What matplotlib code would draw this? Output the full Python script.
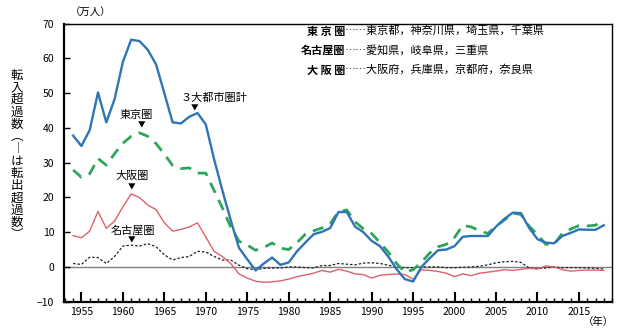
import matplotlib
matplotlib.use("Agg")
import matplotlib.pyplot as plt
from matplotlib.ticker import MultipleLocator

plt.rcParams["font.family"] = ["Noto Sans CJK JP", "DejaVu Sans"]

years = list(range(1954, 2019))

total = [37.8, 34.8, 39.4, 50.2, 41.6, 48.3, 59.0, 65.4, 65.0, 62.5, 58.3, 50.0,
         41.6, 41.3, 43.2, 44.3, 41.0, 31.0, 22.0, 13.5, 5.5, 2.2, -1.0, 1.0,
         2.7, 0.6, 1.3, 4.5, 7.0, 9.4, 10.1, 11.2, 15.8, 15.8, 11.6, 10.0,
         7.5, 6.0, 3.0, -0.6, -3.5, -4.2, 0.0, 2.5, 4.8, 5.0, 6.0, 8.7,
         8.9, 8.9, 8.9, 11.6, 13.8, 15.6, 15.5, 11.2, 8.0, 7.0, 6.8, 8.9,
         9.8, 10.8, 10.7, 10.7, 12.0]

tokyo = [27.9, 25.8, 26.8, 31.2, 29.3, 32.6, 35.6, 37.6, 38.6, 37.6, 35.5, 32.5,
         29.2, 28.3, 28.5, 27.0, 27.0, 22.0, 17.0, 11.5, 7.4, 6.3, 4.8, 5.6,
         6.9, 5.4, 5.0, 7.0, 9.4, 10.4, 11.2, 12.4, 15.9, 16.4, 13.0, 11.0,
         9.6, 7.0, 4.3, 1.0, -1.5, -0.8, 1.3, 4.0, 5.8, 6.5, 8.5, 12.0,
         11.5, 10.5, 9.6, 11.7, 13.5, 15.5, 15.1, 11.7, 9.3, 6.5, 6.5, 9.7,
         10.9, 11.9, 11.8, 12.0, 13.6]

osaka = [9.0, 8.4, 10.3, 16.0, 11.1, 13.2, 17.3, 21.0, 20.0, 17.8, 16.5, 12.7,
         10.3, 10.8, 11.5, 12.7, 8.6, 4.5, 3.0, 1.0, -2.0, -3.2, -4.1, -4.4,
         -4.3, -4.0, -3.5, -2.8, -2.3, -1.8, -1.0, -1.5, -0.7, -1.2, -2.0, -2.2,
         -3.2, -2.4, -2.2, -2.0, -2.2, -3.5, -0.8, -1.0, -1.3, -1.8, -2.8, -2.0,
         -2.5, -1.8, -1.5, -1.2, -0.8, -1.0, -0.7, -0.4, -0.6, 0.3, 0.0, -0.8,
         -1.2, -1.0, -0.9, -0.9, -1.0]

nagoya = [1.0, 0.7, 2.8, 2.7, 1.0, 3.0, 6.0, 6.3, 6.0, 6.7, 5.8, 3.5,
          2.0, 2.7, 3.0, 4.5, 4.3, 3.0, 2.0, 2.0, 0.5, -0.5, -0.8, -0.4,
          -0.3, -0.3, 0.0, 0.0, -0.2, -0.3, 0.4, 0.4, 1.0, 0.8, 0.6, 1.1,
          1.2, 1.0, 0.5, 0.0, -0.2, -0.2, 0.0, 0.0, 0.0, -0.2, -0.2, -0.1,
          0.0, 0.2, 0.6, 1.2, 1.5, 1.6, 1.3, -0.3, -0.5, -0.3, 0.0, -0.2,
          -0.2, -0.2, -0.3, -0.4, -0.6]

xticks = list(range(1955, 2016, 5))
yticks = list(range(-10, 71, 10))

legend_names = ["東 京 圏", "名古屋圏", "大 阪 圏"]
legend_members = ["……東京都，神奈川県，埼玉県，千葉県",
                  "……愛知県，岐阜県，三重県",
                  "……大阪府，兵庫県，京都府，奈良県"]

ylabel = "転入超過数︵︱は転出超過数︶"


def main():
    fig = plt.figure(figsize=(6.25, 3.29), dpi=100)
    ax = fig.add_axes([0.1024, 0.083, 0.877, 0.845])

    ax.axhline(0, color="#808080", lw=1.0, zorder=1)
    ax.plot(years, nagoya, color="#222222", lw=0.9, ls=(0, (2, 1.5)), zorder=2)
    ax.plot(years, osaka, color="#e0606e", lw=1.0, zorder=3)
    ax.plot(years, tokyo, color="#2ea55a", lw=2.0, ls=(0, (4, 2.8)), zorder=4)
    ax.plot(years, total, color="#2e75b6", lw=1.7, zorder=5)

    ax.set_xlim(1952.9, 2019)
    ax.set_ylim(-10, 70)
    ax.set_xticks(xticks)
    ax.set_yticks(yticks)
    ax.xaxis.set_minor_locator(MultipleLocator(1))
    ax.tick_params(axis="x", which="major", direction="in", length=7, width=1.5,
                   labelsize=7.5, pad=4)
    ax.tick_params(axis="x", which="minor", direction="in", length=3, width=1.0)
    ax.tick_params(axis="y", which="major", direction="in", length=4, width=1.0,
                   labelsize=7.5, pad=7)
    for s in ["left", "bottom"]:
        ax.spines[s].set_linewidth(1.6)
    for s in ["top", "right"]:
        ax.spines[s].set_linewidth(1.0)

    # annotations
    ann = dict(fontsize=8, ha="center", va="center")
    tri = dict(fontsize=5.5, ha="center", va="center")
    ax.text(1971.0, 48.6, "３大都市圏計", **ann)
    ax.text(1968.7, 45.5, "▼", **tri)
    ax.text(1961.6, 43.6, "東京圏", **ann)
    ax.text(1962.2, 40.6, "▼", **tri)
    ax.text(1961.1, 26.2, "大阪圏", **ann)
    ax.text(1961.0, 23.0, "▼", **tri)
    ax.text(1961.2, 10.6, "名古屋圏", **ann)
    ax.text(1961.1, 7.6, "▼", **tri)

    # region legend text
    for i, (name, members) in enumerate(zip(legend_names, legend_members)):
        y = 1 - (31 + i * 19.5) / 329
        fig.text(345 / 625, y, name, fontsize=8, fontweight="bold",
                 ha="right", va="center")
        fig.text(345 / 625, y, members, fontsize=8, ha="left", va="center")

    fig.text(91 / 625, 1 - 13 / 329, "（万人）", fontsize=7.5, ha="center", va="center")
    fig.text(598 / 625, 1 - 322 / 329, "（年）", fontsize=7.5, ha="center", va="center")
    fig.text(17 / 625, 1 - 155 / 329, "\n".join(ylabel), fontsize=9,
             ha="center", va="center", linespacing=0.93)

    fig.savefig("out.png", dpi=100)


if __name__ == "__main__":
    main()
